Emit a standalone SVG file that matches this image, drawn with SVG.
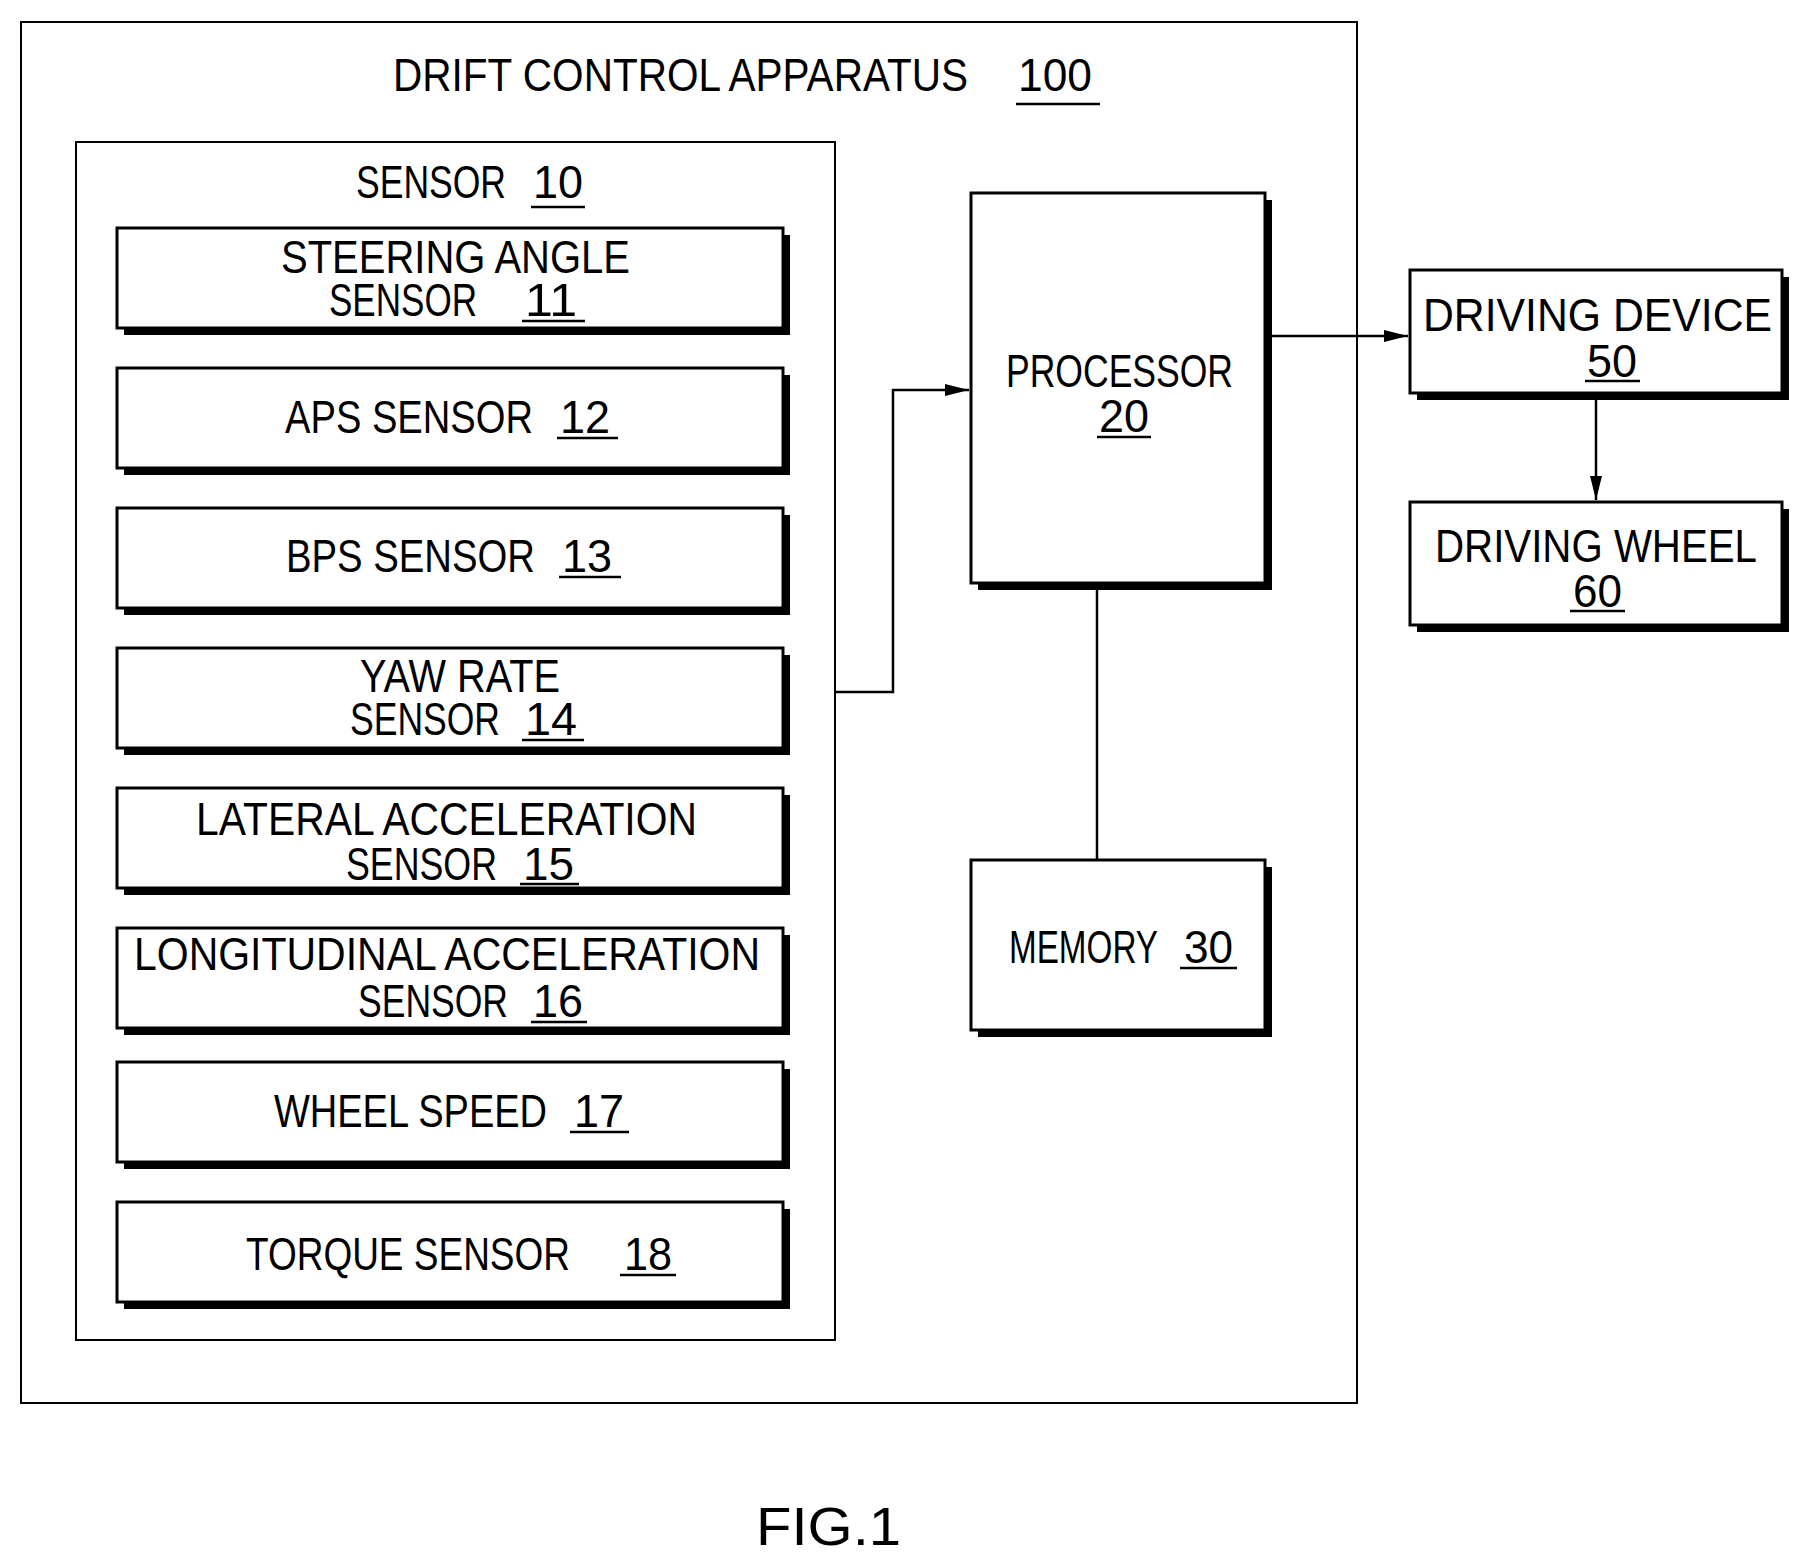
<svg xmlns="http://www.w3.org/2000/svg" width="1811" height="1568" viewBox="0 0 1811 1568">
<defs>
<style>
text{font-family:"Liberation Sans",Arial,sans-serif;font-size:46px;fill:#000}
.b{fill:#fff;stroke:#000;stroke-width:3}
.s{fill:#000}
.u{stroke:#000;stroke-width:2.5}
.c{fill:none;stroke:#000;stroke-width:2.5}
</style>
<marker id="a" markerWidth="24" markerHeight="14" refX="24" refY="7" orient="auto" markerUnits="userSpaceOnUse"><path d="M0,1 L24,7 L0,13 Z" fill="#000"/></marker>
</defs>
<rect width="1811" height="1568" fill="#fff"/>
<g id="apparatus">
<rect x="21" y="22" width="1336" height="1381" fill="none" stroke="#000" stroke-width="2"/>
<text x="393" y="91" textLength="575" lengthAdjust="spacingAndGlyphs">DRIFT CONTROL APPARATUS</text>
<text x="1018" y="91" textLength="74" lengthAdjust="spacingAndGlyphs">100</text>
<line class="u" x1="1016" y1="104" x2="1100" y2="104"/>
</g>
<g id="sensor">
<rect x="76" y="142" width="759" height="1198" fill="none" stroke="#000" stroke-width="2"/>
<text x="356" y="198" textLength="150" lengthAdjust="spacingAndGlyphs">SENSOR</text>
<text x="533" y="198" textLength="50" lengthAdjust="spacingAndGlyphs">10</text>
<line class="u" x1="531" y1="207" x2="585" y2="207"/>
</g>
<g id="s11"><rect class="s" x="124" y="235" width="666" height="100"/><rect class="b" x="117" y="228" width="666" height="100"/>
<text x="281" y="273" textLength="349" lengthAdjust="spacingAndGlyphs">STEERING ANGLE</text>
<text x="329" y="316" textLength="148" lengthAdjust="spacingAndGlyphs">SENSOR</text>
<text x="525" y="316" textLength="52" lengthAdjust="spacingAndGlyphs">11</text><line class="u" x1="522" y1="321" x2="585" y2="321"/></g>
<g id="s12"><rect class="s" x="124" y="375" width="666" height="100"/><rect class="b" x="117" y="368" width="666" height="100"/>
<text x="285" y="433" textLength="248" lengthAdjust="spacingAndGlyphs">APS SENSOR</text>
<text x="560" y="433" textLength="50" lengthAdjust="spacingAndGlyphs">12</text><line class="u" x1="557" y1="438" x2="618" y2="438"/></g>
<g id="s13"><rect class="s" x="124" y="515" width="666" height="100"/><rect class="b" x="117" y="508" width="666" height="100"/>
<text x="286" y="572" textLength="249" lengthAdjust="spacingAndGlyphs">BPS SENSOR</text>
<text x="562" y="572" textLength="50" lengthAdjust="spacingAndGlyphs">13</text><line class="u" x1="559" y1="577" x2="621" y2="577"/></g>
<g id="s14"><rect class="s" x="124" y="655" width="666" height="100"/><rect class="b" x="117" y="648" width="666" height="100"/>
<text x="360" y="692" textLength="200" lengthAdjust="spacingAndGlyphs">YAW RATE</text>
<text x="350" y="735" textLength="150" lengthAdjust="spacingAndGlyphs">SENSOR</text>
<text x="525" y="735" textLength="52" lengthAdjust="spacingAndGlyphs">14</text><line class="u" x1="522" y1="740" x2="584" y2="740"/></g>
<g id="s15"><rect class="s" x="124" y="795" width="666" height="100"/><rect class="b" x="117" y="788" width="666" height="100"/>
<text x="196" y="835" textLength="501" lengthAdjust="spacingAndGlyphs">LATERAL ACCELERATION</text>
<text x="346" y="880" textLength="151" lengthAdjust="spacingAndGlyphs">SENSOR</text>
<text x="523" y="880" textLength="51" lengthAdjust="spacingAndGlyphs">15</text><line class="u" x1="520" y1="884" x2="579" y2="884"/></g>
<g id="s16"><rect class="s" x="124" y="935" width="666" height="100"/><rect class="b" x="117" y="928" width="666" height="100"/>
<text x="134" y="970" textLength="626" lengthAdjust="spacingAndGlyphs">LONGITUDINAL ACCELERATION</text>
<text x="358" y="1017" textLength="150" lengthAdjust="spacingAndGlyphs">SENSOR</text>
<text x="533" y="1017" textLength="50" lengthAdjust="spacingAndGlyphs">16</text><line class="u" x1="531" y1="1022" x2="587" y2="1022"/></g>
<g id="s17"><rect class="s" x="124" y="1069" width="666" height="100"/><rect class="b" x="117" y="1062" width="666" height="100"/>
<text x="274" y="1127" textLength="273" lengthAdjust="spacingAndGlyphs">WHEEL SPEED</text>
<text x="574" y="1127" textLength="50" lengthAdjust="spacingAndGlyphs">17</text><line class="u" x1="570" y1="1132" x2="629" y2="1132"/></g>
<g id="s18"><rect class="s" x="124" y="1209" width="666" height="100"/><rect class="b" x="117" y="1202" width="666" height="100"/>
<text x="246" y="1270" textLength="324" lengthAdjust="spacingAndGlyphs">TORQUE SENSOR</text>
<text x="624" y="1270" textLength="48" lengthAdjust="spacingAndGlyphs">18</text><line class="u" x1="620" y1="1275" x2="676" y2="1275"/></g>
<g id="processor"><rect class="s" x="978" y="200" width="294" height="390"/><rect class="b" x="971" y="193" width="294" height="390"/>
<text x="1006" y="387" textLength="227" lengthAdjust="spacingAndGlyphs">PROCESSOR</text>
<text x="1099" y="432" textLength="50" lengthAdjust="spacingAndGlyphs">20</text><line class="u" x1="1097" y1="437" x2="1151" y2="437"/></g>
<g id="memory"><rect class="s" x="978" y="867" width="294" height="170"/><rect class="b" x="971" y="860" width="294" height="170"/>
<text x="1009" y="963" textLength="149" lengthAdjust="spacingAndGlyphs">MEMORY</text>
<text x="1184" y="963" textLength="49" lengthAdjust="spacingAndGlyphs">30</text><line class="u" x1="1180" y1="968" x2="1237" y2="968"/></g>
<g id="device"><rect class="s" x="1417" y="277" width="372" height="123"/><rect class="b" x="1410" y="270" width="372" height="123"/>
<text x="1423" y="331" textLength="349" lengthAdjust="spacingAndGlyphs">DRIVING DEVICE</text>
<text x="1587" y="377" textLength="50" lengthAdjust="spacingAndGlyphs">50</text><line class="u" x1="1585" y1="381" x2="1640" y2="381"/></g>
<g id="wheel"><rect class="s" x="1417" y="509" width="372" height="123"/><rect class="b" x="1410" y="502" width="372" height="123"/>
<text x="1435" y="562" textLength="322" lengthAdjust="spacingAndGlyphs">DRIVING WHEEL</text>
<text x="1573" y="607" textLength="49" lengthAdjust="spacingAndGlyphs">60</text><line class="u" x1="1570" y1="611" x2="1625" y2="611"/></g>
<g id="connectors">
<polyline class="c" points="835,692 893,692 893,390 969,390" marker-end="url(#a)"/>
<line class="c" x1="1272" y1="336" x2="1408" y2="336" marker-end="url(#a)"/>
<line class="c" x1="1596" y1="400" x2="1596" y2="500" marker-end="url(#a)"/>
<line class="c" x1="1097" y1="590" x2="1097" y2="860"/>
</g>
<text x="756" y="1545" style="font-size:54px" textLength="145" lengthAdjust="spacingAndGlyphs">FIG.1</text>
</svg>
